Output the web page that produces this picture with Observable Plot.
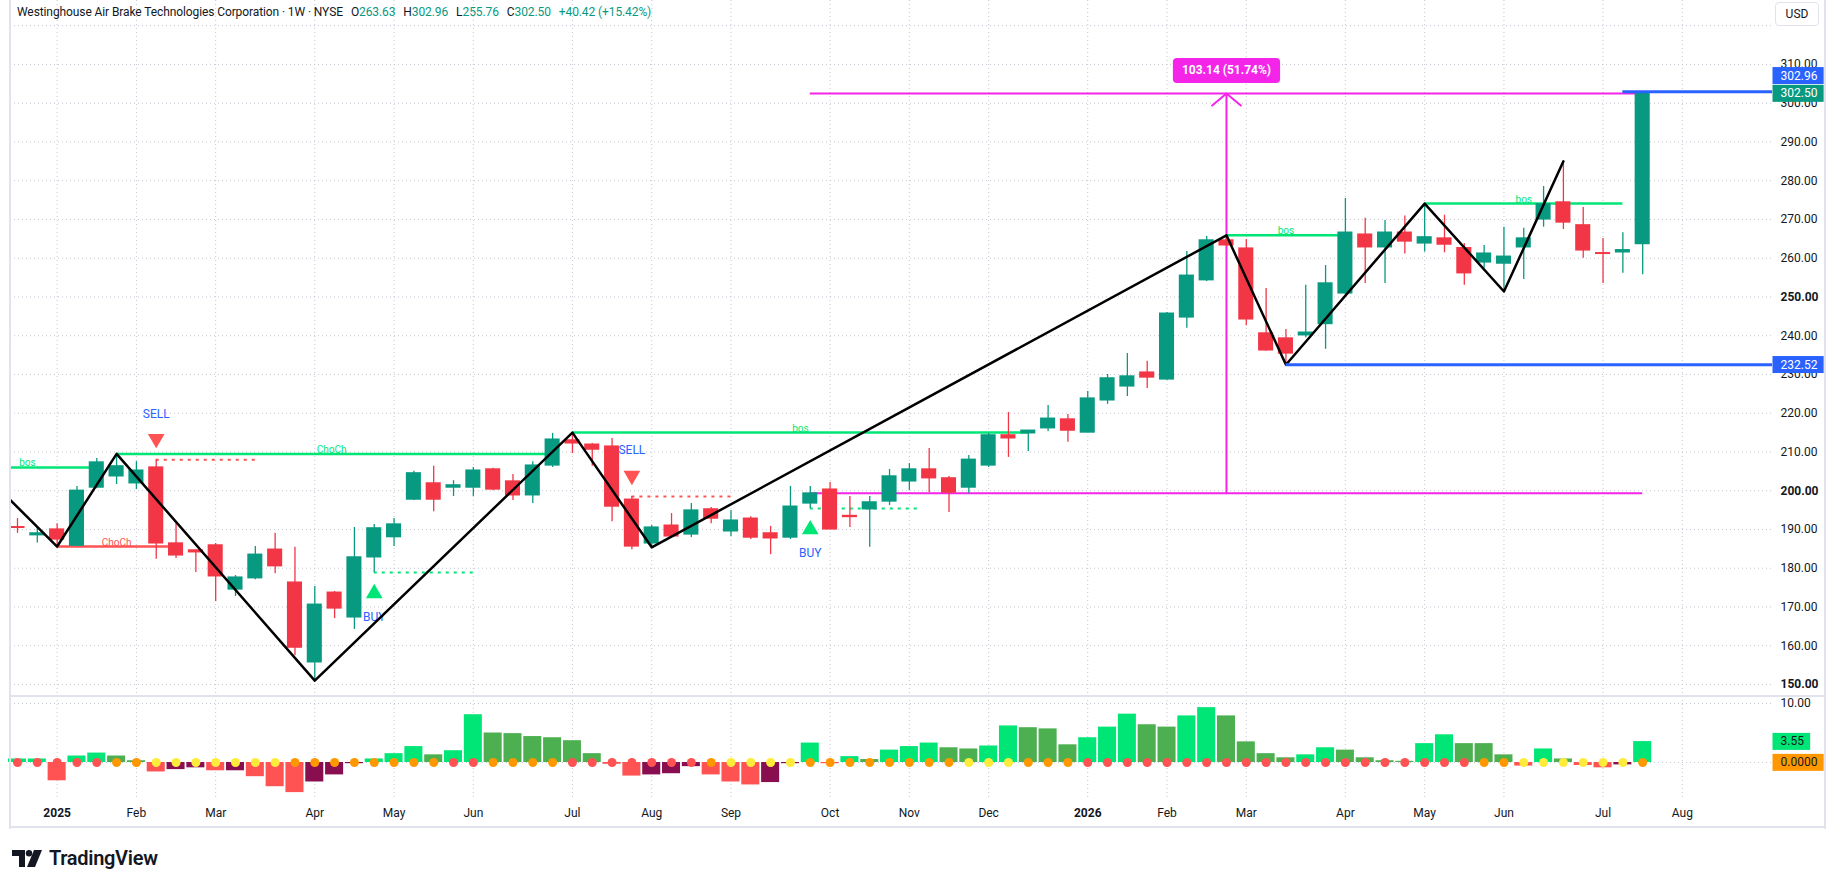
<!DOCTYPE html>
<html><head><meta charset="utf-8">
<script src="https://cdn.jsdelivr.net/npm/d3@7"></script>
<script src="https://cdn.jsdelivr.net/npm/@observablehq/plot@0.6"></script>
<style>
body{margin:0;background:#fff;font-family:Roboto,"Liberation Sans",sans-serif;}
#wrap{position:relative;width:1835px;height:888px;overflow:hidden;background:#fff;}
.abs{position:absolute;}
#header{left:17px;top:5px;font-size:12px;color:#131722;white-space:nowrap;letter-spacing:-0.1px;}
#header .k{margin-left:8px;}
#header .v{color:#089981;}
#usd{left:1775px;top:2px;width:44px;height:24px;border:1px solid #e0e3eb;border-radius:4px;box-sizing:border-box;font-size:12px;line-height:22px;text-align:center;color:#131722;background:#fff;}
#logo{left:12px;top:846px;display:flex;align-items:center;gap:7px;font-size:20px;font-weight:600;color:#131722;letter-spacing:-0.3px;}
.frameL{left:9px;top:0;width:2px;height:829px;background:#e0e3eb;}
.frameR{left:1824px;top:0;width:2px;height:829px;background:#e0e3eb;}
.frameB{left:9px;top:826px;width:1817px;height:2px;background:#e0e3eb;}
.sep{left:10px;top:695px;width:1815px;height:2px;background:#e0e3eb;}
</style></head><body>
<div id="wrap">
  <div id="price" class="abs" style="left:0;top:0"></div>
  <div id="osc" class="abs" style="left:0;top:696px"></div>
  <div class="abs frameL"></div><div class="abs frameR"></div><div class="abs frameB"></div><div class="abs sep"></div>
  <div id="header" class="abs"></div>
  <div id="usd" class="abs">USD</div>
  <div id="logo" class="abs">
    <svg width="30" height="17" viewBox="0 0 30 17"><path d="M0 0H13V17H7V6H0Z" fill="#131722"/><circle cx="17" cy="3.2" r="3.2" fill="#131722"/><path d="M22 0H30L23 17H15Z" fill="#131722"/></svg>
    <span>TradingView</span>
  </div>
</div>
<script>
// ---------- data (weekly bars, index 0 = week of 23 Dec 2024) ----------
const open = [190.6,188.5,190.0,185.8,200.8,203.7,201.9,206.0,186.4,184.6,
185.9,174.5,177.4,184.8,176.3,155.7,173.7,167.3,182.8,188.0,
197.7,201.9,200.8,200.8,205.5,202.4,198.8,206.5,213.0,211.9,
211.4,197.7,186.4,191.0,188.7,195.2,189.5,192.8,189.0,187.9,
196.7,200.3,193.5,195.2,197.2,202.4,205.5,203.2,200.8,206.5,
214.3,214.8,216.1,218.4,215.0,223.3,226.9,230.5,228.7,244.7,
254.3,264.6,262.5,240.6,239.3,240.1,243.0,250.9,266.1,262.8,
266.6,263.8,265.1,262.6,258.9,258.6,262.8,270.0,274.4,268.5,
261.3,261.5,263.63];
const high = [192.8,190.8,191.5,201.1,208.3,209.5,207.5,208.0,191.5,184.8,
186.4,178.1,185.6,189.0,185.4,175.3,174.0,190.5,191.3,192.8,
205.0,206.3,202.6,206.0,205.8,204.2,207.5,214.8,215.0,212.2,
213.5,198.5,191.0,194.1,196.7,195.7,194.9,193.3,190.8,201.1,
201.1,202.1,198.5,198.5,205.5,207.0,210.9,203.7,209.1,214.8,
220.2,215.5,222.0,219.7,225.6,230.0,235.4,233.4,246.0,261.7,
265.6,265.9,264.8,252.2,241.6,253.0,258.1,275.4,270.3,269.7,
270.9,274.1,271.1,263.8,263.3,268.0,267.7,278.5,285.0,273.1,
265.1,266.6,302.96];
const low = [189.0,186.5,185.6,185.6,200.5,201.6,200.3,182.3,182.5,178.9,
171.4,172.7,177.0,178.6,157.5,151.0,167.0,164.2,178.9,185.6,
197.5,194.6,198.5,198.5,200.0,197.5,196.7,206.0,209.6,206.3,
192.0,184.8,185.4,187.9,187.9,191.5,188.2,187.4,183.5,187.4,
195.4,190.0,190.5,185.4,196.2,200.0,199.5,194.4,199.3,206.0,
208.6,210.1,215.3,212.5,215.0,222.3,224.3,226.4,228.5,241.9,
254.0,263.0,242.6,236.0,232.52,239.5,236.5,250.5,253.5,253.5,
261.1,261.6,261.4,253.0,257.4,251.4,254.5,268.0,267.4,260.0,
253.5,256.1,255.76];
const close = [190.4,189.0,187.4,200.0,207.3,206.3,205.2,186.4,183.3,184.1,
177.9,177.6,183.5,180.5,159.5,170.6,169.6,182.8,190.3,191.3,
204.5,197.7,201.4,205.2,200.3,198.8,206.5,213.2,212.2,210.6,
195.9,185.6,190.5,188.2,194.9,192.8,192.3,187.9,187.7,195.9,
199.3,190.0,193.2,197.0,203.7,205.5,203.2,199.5,208.0,214.3,
213.5,215.5,218.6,215.5,223.8,229.0,229.5,229.2,245.7,255.5,
264.6,263.3,244.2,236.2,235.4,240.8,253.5,266.6,262.8,266.6,
264.3,265.4,263.5,256.1,261.2,260.4,265.1,273.9,269.2,262.0,
261.1,262.08,302.50];

// squeeze momentum histogram
const momentum = [0.6,0.6,-3.1,1.1,1.6,1.1,0.3,-1.6,-1.2,-0.9,
-1.4,-1.4,-2.4,-4.1,-5.1,-3.3,-2.1,-0.2,0.6,1.5,
2.7,1.3,2.0,8.1,5.0,4.9,4.4,4.2,3.7,1.5,
-0.3,-2.3,-2.1,-1.9,-0.7,-2.1,-3.3,-3.8,-3.4,-0.2,
3.3,-0.2,1.0,0.5,2.1,2.7,3.3,2.5,2.3,2.8,
6.2,5.9,5.7,3.0,4.2,6.0,8.2,6.4,6.0,7.9,
9.3,7.9,3.5,1.5,0.8,1.3,2.5,2.1,0.8,0.3,
0.2,3.2,4.7,3.2,3.2,1.3,-0.6,2.3,0.6,-0.5,
-0.9,-0.4,3.55];
const momentumState = "LLRLLGGRMMRMRRRMMMLLLGLLGGGGGGRRMMMRRRMMLRLGLLLGGLLGGGLLLGGLLGGGGLLGGGGLLGGGRLGRRML";
const squeezeState  = "rrrrrooyyyyyyyoooooooorroooorrrrrrroyyyyooooooooyyyooorrrrrrrrrrrrrrrrrrrrooyyyyyyo";

// time axis
const monthTicks  = [2,6,10,15,19,23,28,32,36,41,45,49,54,58,62,67,71,75,80,84];
const monthLabels = ["2025","Feb","Mar","Apr","May","Jun","Jul","Aug","Sep","Oct","Nov","Dec","2026","Feb","Mar","Apr","May","Jun","Jul","Aug"];
const yearTicks = [2,54];
const priceTicks = [150,160,170,180,190,200,210,220,230,240,250,260,270,280,290,300,310];
const boldPriceTicks = [150,200,250];
const priceGrid = [150,160,170,180,190,200,210,220,230,240,250,260,270,280,290,300,310,320];

// zigzag pivots
const pivotIdx   = [-1,2,5,15,28,32,61,64,71,75,78];
const pivotPrice = [200.8,185.6,209.5,151.0,215.0,185.4,265.9,232.52,274.1,251.4,285.0];

// market-structure lines
const structFrom  = [-3,5,28,61,71,2];
const structTo    = [4,26.7,51,67,81,8];
const structPrice = [206.0,209.5,215.0,265.9,274.1,185.6];
const structLabel = ["bos","ChoCh","bos","bos","bos","ChoCh"];
const structBull  = [true,true,true,true,true,false];

// signals
const signalIdx  = [7,18,31,40];
const signalType = ["SELL","BUY","SELL","BUY"];
const dottedTo   = [12,23,36,45.4];

// measure tool
const measureFrom = 40, measureTo = 82, measureX = 61;
const measureLow = 199.34, measureHigh = 302.48;

// horizontal price lines
const hlinePrice = [302.96,232.52];
const hlineFrom  = [81,64];

// ---------- derived tables ----------
const GREEN = "#089981", RED = "#f23645", MAG = "#f425e8", BLUE = "#2962ff";
const oscColor = {L:"#00e676", G:"#4caf50", R:"#ff5252", M:"#880e4f"};
const dotColor = {r:"#ff5252", o:"#ff9800", y:"#ffeb3b"};
const n = open.length;
const bars = d3.range(n).map(i => ({i, o: open[i], h: high[i], l: low[i], c: close[i], up: close[i] >= open[i]}));
const osc = d3.range(n).map(i => ({i, v: momentum[i], fill: oscColor[momentumState[i]], dot: dotColor[squeezeState[i]]}));
const pivots = pivotIdx.map((i, k) => ({i, p: pivotPrice[k]}));
const structs = structFrom.map((f, k) => ({from: f, to: structTo[k], p: structPrice[k], label: structLabel[k], col: structBull[k] ? "#00e676" : "#ff5252"}));
const signals = signalIdx.map((i, k) => ({i, type: signalType[k], sell: signalType[k] === "SELL", p: signalType[k] === "SELL" ? high[i] : low[i], to: dottedTo[k]}));
const hlines = hlinePrice.map((p, k) => ({p, from: hlineFrom[k]}));
const diff = measureHigh - measureLow;
const measureText = `${diff.toFixed(2)} (${(diff / measureLow * 100).toFixed(2)}%)`;
const last = n - 1;
const chg = close[last] - close[last - 1];

const X_DOMAIN = [-0.353, 88.55];
const W = 1835, ML = 10, MR = 63;
const gridStyle = {stroke: "#c3c7d0", strokeOpacity: 1, strokeWidth: 1, strokeDasharray: "1,3"};
const labelOf = new Map(monthTicks.map((t, k) => [t, monthLabels[k]]));

// header
document.getElementById("header").innerHTML =
  `<span>Westinghouse Air Brake Technologies Corporation · 1W · NYSE</span>` +
  `<span class="k">O<span class="v">${open[last].toFixed(2)}</span></span>` +
  `<span class="k">H<span class="v">${high[last].toFixed(2)}</span></span>` +
  `<span class="k">L<span class="v">${low[last].toFixed(2)}</span></span>` +
  `<span class="k">C<span class="v">${close[last].toFixed(2)}</span></span>` +
  `<span class="k v">+${chg.toFixed(2)} (+${(chg / close[last - 1] * 100).toFixed(2)}%)</span>`;

// ---------- price pane ----------
const highBox = [{p: high[last], txt: high[last].toFixed(2), fill: BLUE}];
const levelBoxes = [
  {p: close[last], txt: close[last].toFixed(2), fill: GREEN},
  {p: hlinePrice[1], txt: hlinePrice[1].toFixed(2), fill: BLUE}
];
const axisOpts = {anchor: "right", tickSize: 0, tickPadding: 8, tickFormat: d => d.toFixed(2), fill: "#131722", fontSize: 12, label: null};
const pricePlot = Plot.plot({
  width: W, height: 696, marginLeft: ML, marginRight: MR, marginTop: 0, marginBottom: 0,
  x: {type: "linear", domain: X_DOMAIN, axis: null},
  y: {domain: [146.9, 326.5], axis: null},
  color: {type: "identity"},
  style: {fontFamily: "Roboto, sans-serif", fontSize: "12px", color: "#131722", background: "transparent", overflow: "visible"},
  marks: [
    Plot.gridX(monthTicks, gridStyle),
    Plot.gridY(priceGrid, gridStyle),
    Plot.axisY(priceTicks.filter(t => !boldPriceTicks.includes(t)), axisOpts),
    Plot.axisY(boldPriceTicks, {...axisOpts, fontWeight: "bold"}),
    // measure tool
    Plot.ruleY([measureLow, measureHigh], {x1: measureFrom, x2: measureTo, stroke: MAG, strokeWidth: 2}),
    Plot.arrow([0], {x: measureX, y1: measureLow, y2: measureHigh, stroke: MAG, strokeWidth: 2, headLength: 14, headAngle: 100}),
    // dotted signal levels
    Plot.ruleY(signals, {y: "p", x1: "i", x2: "to", stroke: d => d.sell ? "#ff5252" : "#00e676", strokeWidth: 2, strokeDasharray: "3,5"}),
    // structure lines
    Plot.ruleY(structs, {y: "p", x1: "from", x2: "to", stroke: "col", strokeWidth: 2.5, clip: true}),
    Plot.text(structs, {x: d => (d.from + d.to) / 2, y: "p", text: "label", fill: "col", fontSize: 10, lineAnchor: "bottom", dy: -1}),
    // candles
    Plot.ruleX(bars, {x: "i", y1: "l", y2: "h", stroke: d => d.up ? GREEN : RED, strokeWidth: 1.3}),
    Plot.rect(bars, {x1: d => d.i - 0.38, x2: d => d.i + 0.38, y1: d => Math.min(d.o, d.c), y2: d => Math.max(d.o, d.c), fill: d => d.up ? GREEN : RED, insetTop: -0.6, insetBottom: -0.6}),
    // signals
    Plot.text(signals.filter(d => d.sell), {x: "i", y: "p", text: "type", fill: BLUE, fontSize: 12, dy: -46}),
    Plot.text(signals.filter(d => !d.sell), {x: "i", y: "p", text: "type", fill: BLUE, fontSize: 12, dy: 45}),
    Plot.dot(signals.filter(d => d.sell), {x: "i", y: "p", symbol: "triangle", r: 6.2, fill: "#ff5252", rotate: 180, dy: -21}),
    Plot.dot(signals.filter(d => !d.sell), {x: "i", y: "p", symbol: "triangle", r: 6.2, fill: "#00e676", dy: 21}),
    // zigzag
    Plot.line(pivots, {x: "i", y: "p", stroke: "#000", strokeWidth: 2.5, clip: true}),
    // right-side horizontal lines
    Plot.ruleY(hlines, {y: "p", x1: "from", x2: X_DOMAIN[1], stroke: BLUE, strokeWidth: 3}),
    // measure label
    Plot.text([measureText], {x: measureX, y: measureHigh, text: d => d, dy: -23, fill: "#fff", fontWeight: "bold", fontSize: 12}),
    // axis price boxes
    Plot.text(highBox, {x: X_DOMAIN[1], y: "p", text: "txt", dy: -16, textAnchor: "start", dx: 8, fill: "#fff", fontSize: 12}),
    Plot.text(levelBoxes, {x: X_DOMAIN[1], y: "p", text: "txt", textAnchor: "start", dx: 8, fill: "#fff", fontSize: 12})
  ]
});
document.getElementById("price").appendChild(pricePlot);

// ---------- oscillator pane ----------
const oscBoxes = [
  {v: momentum[last], txt: momentum[last].toFixed(2), fill: "#00e676"},
  {v: 0, txt: (0).toFixed(4), fill: "#ff9800"}
];
const oscPlot = Plot.plot({
  width: W, height: 131, marginLeft: ML, marginRight: MR, marginTop: 0, marginBottom: 29,
  x: {type: "linear", domain: X_DOMAIN, axis: null},
  y: {domain: [-6.1, 11.19], axis: null},
  color: {type: "identity"},
  style: {fontFamily: "Roboto, sans-serif", fontSize: "12px", color: "#131722", background: "transparent", overflow: "visible"},
  marks: [
    Plot.gridX(monthTicks, gridStyle),
    Plot.gridY([0, 10], gridStyle),
    Plot.rect(osc, {x1: d => d.i - 0.455, x2: d => d.i + 0.455, y1: 0, y2: "v", fill: "fill"}),
    Plot.dot(osc, {x: "i", y: 0, r: 4.5, fill: "dot"}),
    Plot.axisY([10], axisOpts),
    Plot.axisX(monthTicks.filter(t => !yearTicks.includes(t)), {anchor: "bottom", tickSize: 0, tickPadding: 10, tickFormat: t => labelOf.get(t), fill: "#131722", fontSize: 12, label: null}),
    Plot.axisX(yearTicks, {anchor: "bottom", tickSize: 0, tickPadding: 10, tickFormat: t => labelOf.get(t), fill: "#131722", fontSize: 12, fontWeight: "bold", label: null}),
    Plot.text(oscBoxes, {x: X_DOMAIN[1], y: "v", text: "txt", textAnchor: "start", dx: 8, fill: "#131722", fontSize: 12})
  ]
});
document.getElementById("osc").appendChild(oscPlot);

// ---------- label boxes behind texts (matched by their content) ----------
function boxify(svg, specs) {
  const texts = Array.from(svg.querySelectorAll("text"));
  specs.forEach(s => {
    const t = texts.find(el => el.textContent === s.txt);
    if (!t) return;
    const bb = t.getBBox();
    const r = document.createElementNS("http://www.w3.org/2000/svg", "rect");
    r.setAttribute("x", bb.x - s.padL);
    r.setAttribute("y", bb.y + bb.height / 2 - s.h / 2);
    r.setAttribute("width", bb.width + s.padL + s.padR);
    r.setAttribute("height", s.h);
    r.setAttribute("rx", s.rx || 0);
    r.setAttribute("fill", s.fill);
    const tr = t.getAttribute("transform");
    if (tr) r.setAttribute("transform", tr);
    t.parentNode.insertBefore(r, t);
  });
}
boxify(pricePlot, [
  {txt: measureText, fill: MAG, padL: 9, padR: 9, h: 25, rx: 4},
  ...highBox.map(b => ({txt: b.txt, fill: b.fill, padL: 8, padR: 6, h: 17})),
  ...levelBoxes.map(b => ({txt: b.txt, fill: b.fill, padL: 8, padR: 6, h: 17}))
]);
boxify(oscPlot, oscBoxes.map(b => ({txt: b.txt, fill: b.fill, padL: 8, padR: 6, h: 17})));
</script>
</body></html>
